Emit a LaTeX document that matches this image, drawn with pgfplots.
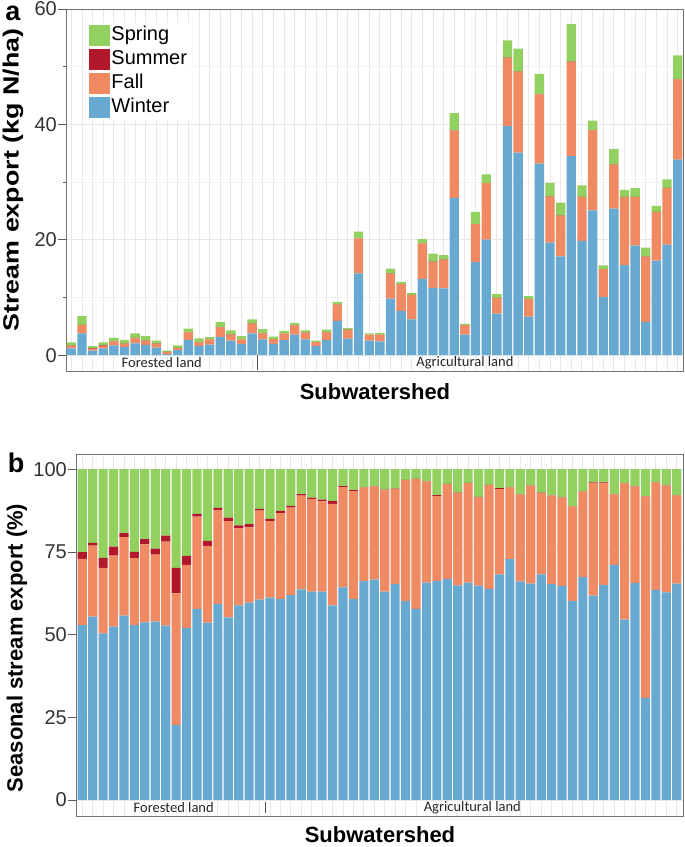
\documentclass[border=0pt]{standalone}
\usepackage{pgfplots}
\pgfplotsset{compat=1.18}
\usepackage{pgfplotstable}
\usepackage{fontspec}
\setmainfont{Liberation Sans}
\newfontfamily\calfont{Carlito}

\definecolor{cwin}{RGB}{103,169,208}
\definecolor{cfall}{RGB}{240,138,98}
\definecolor{csum}{RGB}{178,24,43}
\definecolor{cspr}{RGB}{146,208,96}

\pgfplotstableread{
x W F S P
0 1.16 0.44 0.04 0.55
1 3.75 1.45 0.05 1.51
2 0.79 0.31 0.05 0.42
3 1.15 0.47 0.06 0.51
4 1.67 0.71 0.04 0.58
5 1.41 0.54 0.05 0.66
6 2.02 0.89 0.06 0.79
7 1.78 0.67 0.06 0.79
8 1.32 0.64 0.05 0.50
9 0.18 0.32 0.06 0.24
10 0.88 0.32 0.05 0.45
11 2.66 1.28 0.04 0.62
12 1.55 0.67 0.04 0.63
13 1.84 0.88 0.02 0.36
14 3.15 1.66 0.06 0.83
15 2.53 1.00 0.04 0.73
16 1.97 0.75 0.03 0.55
17 3.76 1.67 0.03 0.74
18 2.75 1.04 0.03 0.68
19 1.94 0.83 0.02 0.40
20 2.60 1.11 0.02 0.47
21 3.57 1.58 0.03 0.42
22 2.71 1.20 0.02 0.37
23 1.58 0.68 0.01 0.23
24 2.59 1.35 0.04 0.42
25 5.95 2.80 0.03 0.47
26 2.85 1.54 0.01 0.30
27 14.17 6.06 0.02 1.15
28 2.50 1.06 0.00 0.20
29 2.39 1.16 0.01 0.24
30 9.80 4.30 0.02 0.88
31 7.65 4.64 0.01 0.40
32 6.21 4.21 0.01 0.31
33 13.20 6.15 0.02 0.72
34 11.65 4.52 0.05 1.37
35 11.56 4.97 0.02 0.78
36 27.20 11.70 0.04 3.00
37 3.55 1.63 0.01 0.23
38 16.10 6.60 0.02 2.10
39 20.00 9.80 0.03 1.50
40 7.20 2.70 0.03 0.64
41 39.70 11.80 0.05 3.00
42 35.10 14.00 0.05 4.00
43 6.67 3.02 0.01 0.51
44 33.20 12.00 0.05 3.50
45 19.50 7.95 0.03 2.40
46 17.10 7.05 0.03 2.27
47 34.50 16.30 0.06 6.50
48 19.80 7.60 0.03 2.00
49 25.10 13.85 0.04 1.66
50 10.10 4.80 0.02 0.64
51 25.40 7.60 0.04 2.70
52 15.60 11.80 0.03 1.20
53 19.00 8.40 0.03 1.50
54 5.75 11.30 0.02 1.55
55 16.40 8.40 0.03 1.04
56 19.15 9.80 0.03 1.50
57 33.90 13.90 0.05 4.10
}\dataA

\pgfplotstableread{
x W F S P
0 52.9 20.0 2.0 25.1
1 55.4 21.5 0.8 22.3
2 50.4 19.8 3.0 26.8
3 52.4 21.5 2.7 23.4
4 55.7 23.8 1.2 19.3
5 52.9 20.2 1.9 25.0
6 53.7 23.6 1.6 21.1
7 53.9 20.3 1.8 24.0
8 52.7 25.4 1.8 20.1
9 22.7 39.8 7.7 29.8
10 52.0 19.1 2.7 26.2
11 57.8 27.9 0.8 13.5
12 53.6 23.2 1.5 21.7
13 59.3 28.4 0.6 11.7
14 55.2 29.1 1.1 14.6
15 58.8 23.3 0.9 17.0
16 59.7 22.7 1.0 16.6
17 60.6 26.9 0.5 12.0
18 61.2 23.1 0.7 15.0
19 60.7 26.0 0.7 12.6
20 61.9 26.5 0.5 11.1
21 63.7 28.3 0.5 7.5
22 63.0 28.0 0.4 8.6
23 63.0 27.3 0.5 9.2
24 58.8 30.7 0.9 9.6
25 64.3 30.3 0.3 5.1
26 60.7 32.7 0.3 6.3
27 66.2 28.3 0.1 5.4
28 66.6 28.1 0.1 5.2
29 63.0 30.6 0.2 6.2
30 65.3 28.7 0.1 5.9
31 60.2 36.5 0.1 3.2
32 57.8 39.2 0.1 2.9
33 65.7 30.6 0.1 3.6
34 66.2 25.7 0.3 7.8
35 66.8 28.7 0.1 4.4
36 64.9 27.9 0.1 7.1
37 65.7 30.1 0.1 4.1
38 64.8 26.7 0.1 8.4
39 63.8 31.4 0.1 4.7
40 68.2 25.8 0.3 5.7
41 72.8 21.6 0.1 5.5
42 66.1 26.3 0.1 7.5
43 65.4 29.6 0.1 4.9
44 68.2 24.6 0.1 7.1
45 65.3 26.7 0.1 7.9
46 64.7 26.7 0.1 8.5
47 60.2 28.5 0.1 11.2
48 67.4 25.8 0.1 6.7
49 61.8 34.1 0.1 4.0
50 65.0 30.9 0.1 4.0
51 71.1 21.3 0.1 7.5
52 54.5 41.2 0.1 4.2
53 65.6 29.1 0.1 5.2
54 30.9 60.8 0.1 8.2
55 63.5 32.5 0.1 3.9
56 62.8 32.2 0.1 4.9
57 65.4 26.7 0.1 7.8
}\dataB

\pgfplotsset{
  myax/.style={
    scale only axis,
    ybar stacked, bar width=0.88,
    xtick={0,...,57}, xticklabels={},
    x tick style={draw=none},
    xmajorgrids,
    ytick pos=left, tick align=outside,
    major tick length=8bp,
    axis line style={draw=black!55, line width=0.8bp},
    y tick style={draw=black!65, line width=0.8bp},
    major grid style={draw=black!9, line width=0.9bp},
    minor grid style={draw=black!5, line width=0.7bp},
    ymajorgrids,
    yticklabel style={font=\fontsize{20bp}{23bp}\selectfont, text=black!80, inner sep=1bp},
    /pgf/number format/assume math mode=true,
    legend image code/.code={\fill[##1] (0bp,-10.5bp) rectangle (21.5bp,10.5bp);},
  },
}

\begin{document}
\begin{tikzpicture}
\useasboundingbox (0,0) rectangle (685bp,847bp);

% Panel a
\begin{axis}[myax,
  at={(66bp,476bp)}, anchor=south west,
  width=617bp, height=362bp,
  xmin=-0.5, xmax=57.5, ymin=-2.75, ymax=60,
  ytick={0,20,40,60}, minor ytick={10,30,50}, yminorgrids,
  reverse legend, legend cell align=left,
  legend style={at={(0.032,0.962)}, anchor=north west, draw=none, fill=white,
    font=\fontsize{20bp}{23bp}\selectfont, row sep=3bp,
    nodes={inner sep=1bp, text height=14bp, text depth=4bp},
    /tikz/every even column/.append style={column sep=7bp}},
]
\addplot[fill=cwin, draw=none] table[x=x,y=W]{\dataA};
\addplot[fill=cfall, draw=none] table[x=x,y=F]{\dataA};
\addplot[fill=csum, draw=none] table[x=x,y=S]{\dataA};
\addplot[fill=cspr, draw=none] table[x=x,y=P]{\dataA};
\legend{Winter, Fall, Summer, Spring}
\draw[black!70, line width=0.8bp] (axis cs:17.5,0) -- (axis cs:17.5,-2.6);
\node[font=\calfont\fontsize{14.5bp}{16bp}\selectfont, text=black!85] at (axis cs:8.5,-1.25) {Forested land};
\node[font=\calfont\fontsize{14.5bp}{16bp}\selectfont, text=black!85] at (axis cs:37.0,-1.25) {Agricultural land};
\end{axis}

% Panel b
\begin{axis}[myax,
  at={(76bp,31bp)}, anchor=south west,
  width=607bp, height=362bp,
  xmin=-0.6, xmax=57.6, ymin=-4.84, ymax=104.6,
  ytick={0,25,50,75,100},
]
\addplot[fill=cwin, draw=none] table[x=x,y=W]{\dataB};
\addplot[fill=cfall, draw=none] table[x=x,y=F]{\dataB};
\addplot[fill=csum, draw=none] table[x=x,y=S]{\dataB};
\addplot[fill=cspr, draw=none] table[x=x,y=P]{\dataB};
\draw[black!70, line width=0.8bp] (axis cs:17.55,-0.6) -- (axis cs:17.55,-4.0);
\node[font=\calfont\fontsize{14.5bp}{16bp}\selectfont, text=black!85] at (axis cs:8.77,-2.3) {Forested land};
\node[font=\calfont\fontsize{14.5bp}{16bp}\selectfont, text=black!85] at (axis cs:37.4,-2.3) {Agricultural land};
\end{axis}

% labels
\node[font=\bfseries\fontsize{27bp}{30bp}\selectfont, inner sep=0pt] at (13bp,834bp) {a};
\node[font=\bfseries\fontsize{27bp}{30bp}\selectfont, inner sep=0pt] at (16bp,384bp) {b};
\node[font=\bfseries\fontsize{22bp}{25bp}\selectfont, rotate=90, inner sep=0pt] at (13bp,667bp) {\scalebox{1.22}[1]{Stream export (kg N/ha)}};
\node[font=\bfseries\fontsize{22bp}{25bp}\selectfont, rotate=90, inner sep=0pt] at (17bp,199bp) {Seasonal stream export (\%)};
\node[font=\bfseries\fontsize{22bp}{25bp}\selectfont, inner sep=0pt] at (375bp,455bp) {Subwatershed};
\node[font=\bfseries\fontsize{22bp}{25bp}\selectfont, inner sep=0pt] at (380bp,12bp) {Subwatershed};
\end{tikzpicture}
\end{document}
